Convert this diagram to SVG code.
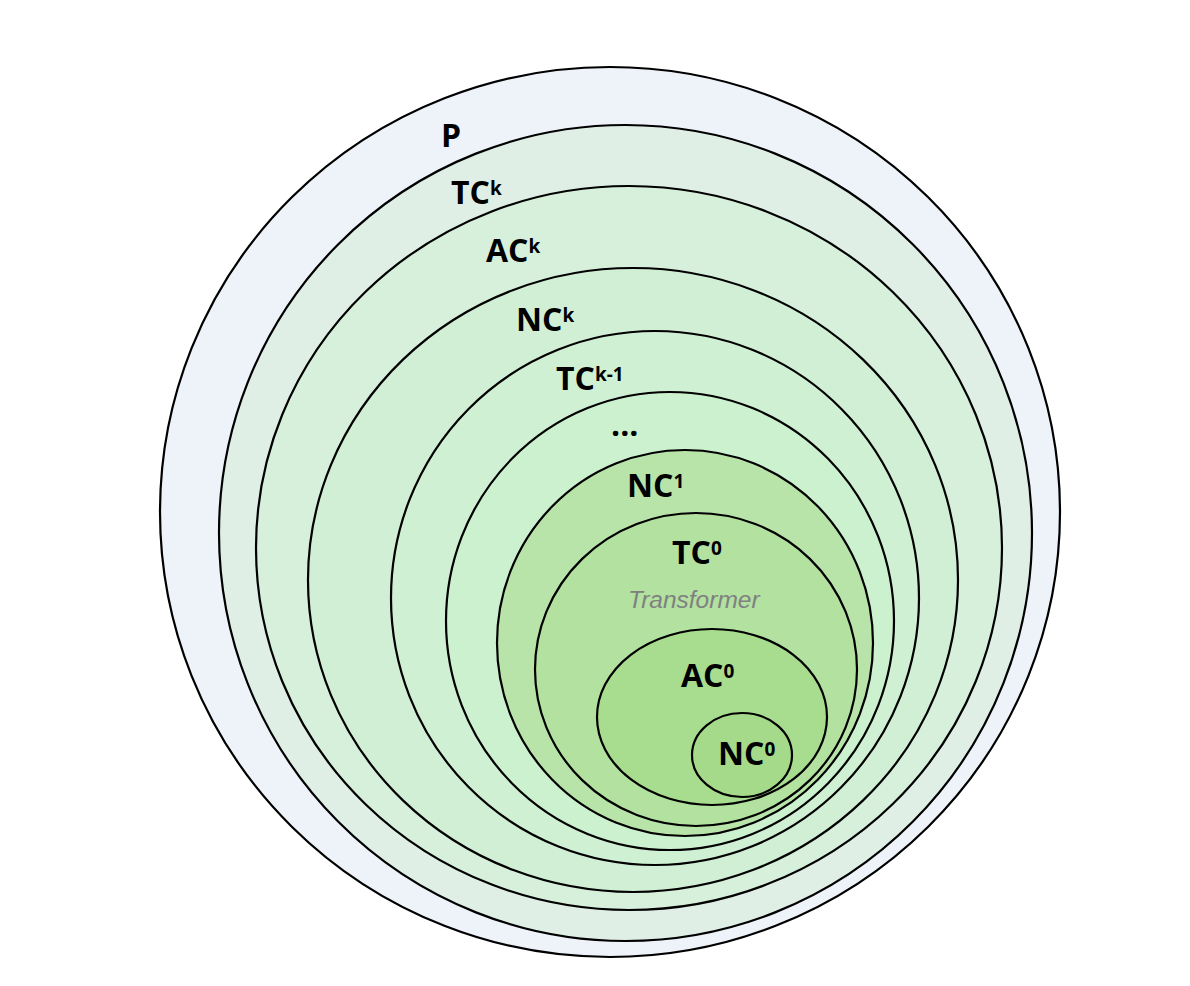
<svg xmlns="http://www.w3.org/2000/svg" width="1190" height="986" viewBox="0 0 1190 986">
<style>
.set{stroke:#000;stroke-width:2.2}
.lbl{font-family:"Open Sans","Liberation Sans",sans-serif;font-weight:700;font-size:32px;fill:#000}
.sup{font-size:19px}
.note{font-family:"Liberation Sans","Open Sans",sans-serif;font-style:italic;font-size:24.5px;fill:#808080}
</style>
<rect width="1190" height="986" fill="#fff"/>
<g id="P"><ellipse class="set" cx="610" cy="512" rx="450" ry="445" fill="#EEF3FA"/><text class="lbl" x="441" y="147">P</text></g>
<g id="TCk"><ellipse class="set" cx="625.5" cy="533" rx="406.5" ry="408" fill="#DFEFE6"/><text class="lbl" x="451" y="204">TC<tspan class="sup" dy="-9">k</tspan></text></g>
<g id="ACk"><ellipse class="set" cx="629" cy="548" rx="373" ry="362" fill="#D6F0DB"/><text class="lbl" x="486" y="262">AC<tspan class="sup" dy="-9">k</tspan></text></g>
<g id="NCk"><ellipse class="set" cx="633" cy="580" rx="325" ry="312" fill="#D1EFD4"/><text class="lbl" x="516" y="331">NC<tspan class="sup" dy="-9">k</tspan></text></g>
<g id="TCk-1"><ellipse class="set" cx="655" cy="598" rx="264" ry="267" fill="#CFF0D2"/><text class="lbl" x="556" y="390">TC<tspan class="sup" dy="-9">k-1</tspan></text></g>
<g id="dots"><ellipse class="set" cx="670" cy="621" rx="224" ry="229" fill="#CCF1CE"/><text class="lbl" x="611" y="436" font-size="22">...</text></g>
<g id="NC1"><ellipse class="set" cx="685" cy="643" rx="188" ry="193" fill="#B8E4A9"/><text class="lbl" x="627" y="497">NC<tspan class="sup" dy="-9">1</tspan></text></g>
<g id="TC0"><ellipse class="set" cx="696" cy="669.5" rx="161" ry="156.5" fill="#B2E1A0"/><text class="lbl" x="672" y="564">TC<tspan class="sup" dy="-9">0</tspan></text><text class="note" x="628" y="608">Transformer</text></g>
<g id="AC0"><ellipse class="set" cx="712" cy="717" rx="115" ry="88" fill="#A8DC8F"/><text class="lbl" x="681" y="687">AC<tspan class="sup" dy="-9">0</tspan></text></g>
<g id="NC0"><ellipse class="set" cx="742" cy="755" rx="50" ry="42" fill="#A5DA8B"/><text class="lbl" x="718" y="765">NC<tspan class="sup" dy="-9">0</tspan></text></g>
<g id="connectors"></g>
</svg>
